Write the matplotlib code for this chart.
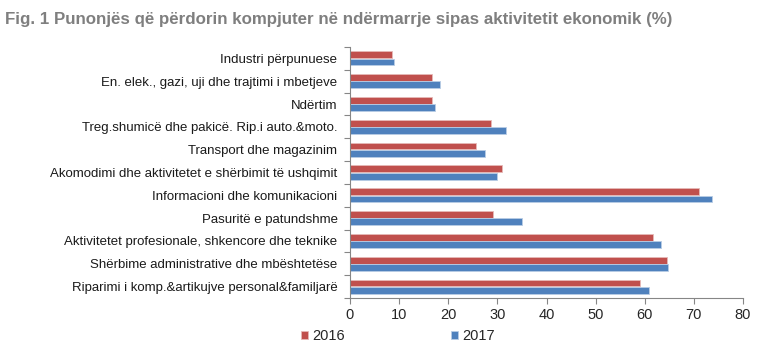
import matplotlib.pyplot as plt
import numpy as np

categories = [
    'Industri përpunuese',
    'En. elek., gazi, uji dhe trajtimi i mbetjeve',
    'Ndërtim',
    'Treg.shumicë dhe pakicë. Rip.i auto.&moto.',
    'Transport dhe magazinim',
    'Akomodimi dhe aktivitetet e shërbimit të ushqimit',
    'Informacioni dhe komunikacioni',
    'Pasuritë e patundshme',
    'Aktivitetet profesionale, shkencore dhe teknike',
    'Shërbime administrative dhe mbështetëse',
    'Riparimi i komp.&artikujve personal&familjarë',
]
values_2016 = [8.5, 16.7, 16.7, 28.7, 25.7, 31.0, 71.1, 29.2, 61.7, 64.5, 59.1]
values_2017 = [8.9, 18.3, 17.3, 31.7, 27.5, 29.9, 73.6, 35.0, 63.3, 64.7, 60.8]
x_ticks = [0, 10, 20, 30, 40, 50, 60, 70, 80]

plt.rcParams['font.family'] = ['Liberation Sans', 'DejaVu Sans']

fig = plt.figure(figsize=(7.83, 3.52), dpi=100)
ax = fig.add_axes([350 / 783, 1 - 298 / 352, 393 / 783, 251 / 352])

n = len(categories)
pos = np.arange(n)
h = 0.3
red = '#C0504D'
blue = '#4F81BD'
ax.barh(pos - h / 2 - 0.01, values_2016, height=h, color=red,
        edgecolor='#E6B9B8', linewidth=0.6, label='2016')
ax.barh(pos + h / 2 + 0.01, values_2017, height=h, color=blue,
        edgecolor='#B9CDE5', linewidth=0.6, label='2017')

ax.set_ylim(n - 0.5, -0.5)
ax.set_xlim(0, 80)
ax.set_xticks(x_ticks)
ax.tick_params(axis='x', labelsize=10.5, colors='#868686', labelcolor='#262626',
               length=4, direction='out')

ax.set_yticks(np.arange(-0.5, n, 1.0))
ax.set_yticklabels([])
ax.set_yticks(pos, minor=True)
ax.set_yticklabels(categories, minor=True)
ax.tick_params(axis='y', which='major', length=4, colors='#868686', direction='out')
ax.tick_params(axis='y', which='minor', length=0, labelsize=9.55, labelcolor='#1a1a1a', pad=9)

for s in ['top', 'right']:
    ax.spines[s].set_visible(False)
ax.spines['left'].set_color('#868686')
ax.spines['bottom'].set_color('#868686')

fig.text(0.006, 0.945, 'Fig. 1 Punonjës që përdorin kompjuter në ndërmarrje sipas aktivitetit ekonomik (%)',
         fontsize=12.2, fontweight='bold', color='#7F7F7F', va='center',
         family=['Liberation Sans Narrow', 'Liberation Sans', 'DejaVu Sans'])

fig.legend(loc='center', bbox_to_anchor=(0.508, 0.045), ncol=2, frameon=False,
           fontsize=10.5, handlelength=0.5, handleheight=0.5, columnspacing=7.3,
           handletextpad=0.25, labelcolor='#262626')

fig.savefig('out.png', dpi=100, facecolor='white')
